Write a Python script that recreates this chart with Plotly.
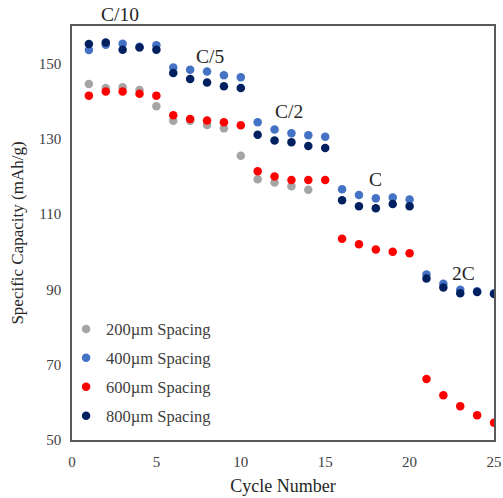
import plotly.graph_objects as go

# Cycle numbers and specific capacity (mAh/g) for each electrode spacing
cycles = list(range(1, 26))

cap_200 = [144.6, 143.5, 143.7, 143.0, 138.7, 134.8, 134.8, 133.7, 132.8, 125.5,
           119.3, 118.4, 117.4, 116.5]
cap_400 = [153.6, 155.0, 155.3, 154.5, 154.9, 149.0, 148.4, 147.9, 146.9, 146.4,
           134.4, 132.5, 131.5, 131.0, 130.6, 116.6, 115.1, 114.2, 114.4, 113.9,
           94.0, 91.5, 89.9, 89.5, 89.0]
cap_600 = [141.5, 142.6, 142.6, 142.0, 141.5, 136.3, 135.3, 134.9, 134.4, 133.6,
           121.4, 120.0, 119.1, 119.1, 119.1, 103.5, 102.0, 100.6, 100.0, 99.6,
           66.2, 61.9, 59.0, 56.6, 54.6]
cap_800 = [155.2, 155.6, 153.7, 154.3, 153.7, 147.5, 145.9, 145.0, 144.0, 143.5,
           131.1, 129.6, 129.1, 128.1, 127.6, 113.7, 112.1, 111.6, 112.7, 112.1,
           92.9, 90.5, 89.0, 89.3, 88.8]

series_names = ["200\u00b5m Spacing", "400\u00b5m Spacing", "600\u00b5m Spacing", "800\u00b5m Spacing"]
series_values = [cap_200, cap_400, cap_600, cap_800]
series_colors = ["#A5A5A5", "#4472C4", "#FF0000", "#002060"]

# C-rate labels and where they sit (C/10 sits just above the plot frame)
rate_labels = ["C/10", "C/5", "C/2", "C", "2C"]
rate_x = [2.85, 8.2, 12.86, 18.0, 23.2]
rate_y = [1.028, 151.8, 137.3, 119.2, 94.3]
rate_yref = ["y domain", "y", "y", "y", "y"]

x_ticks = [0, 5, 10, 15, 20, 25]
y_ticks = [50, 70, 90, 110, 130, 150]

FONT = "Liberation Serif, Times New Roman, serif"

fig = go.Figure()
for i, (name, vals, col) in enumerate(zip(series_names, series_values, series_colors)):
    fig.add_trace(go.Scatter(
        x=cycles[:len(vals)], y=vals, mode="markers", name=name,
        marker=dict(color=col, size=8.5, line=dict(width=0)),
        legendgroup=f"g{i}",
    ))

for lab, xx, yy, yr in zip(rate_labels, rate_x, rate_y, rate_yref):
    fig.add_annotation(x=xx, y=yy, text=lab, showarrow=False,
                       font=dict(family=FONT, size=19.5, color="#262626"),
                       xref="x", yref=yr, yanchor="middle", xanchor="center")

axis_common = dict(
    showgrid=False, zeroline=False, showline=True, linecolor="#595959",
    linewidth=1.5, mirror=True, ticks="", automargin=False,
    tickfont=dict(family=FONT, size=15, color="#404040"),
)

fig.update_xaxes(range=[0, 25], tickvals=x_ticks, ticklabelstandoff=7,
                 title_text="Cycle Number", title_standoff=11,
                 title_font=dict(family=FONT, size=18, color="#262626"),
                 **axis_common)
fig.update_yaxes(range=[50, 160], tickvals=y_ticks, ticklabelstandoff=6,
                 title_text="Specific Capacity (mAh/g)", title_standoff=11,
                 title_font=dict(family=FONT, size=17, color="#262626"),
                 **axis_common)

fig.update_layout(
    width=503, height=498,
    margin=dict(l=72, r=9, t=26, b=58),
    plot_bgcolor="white", paper_bgcolor="white",
    legend=dict(x=-0.014, y=0.31, xanchor="left", yanchor="top",
                bgcolor="rgba(0,0,0,0)", tracegroupgap=4.5,
                font=dict(family=FONT, size=16.5, color="#404040")),
    showlegend=True,
)

fig.write_html("out.html")
